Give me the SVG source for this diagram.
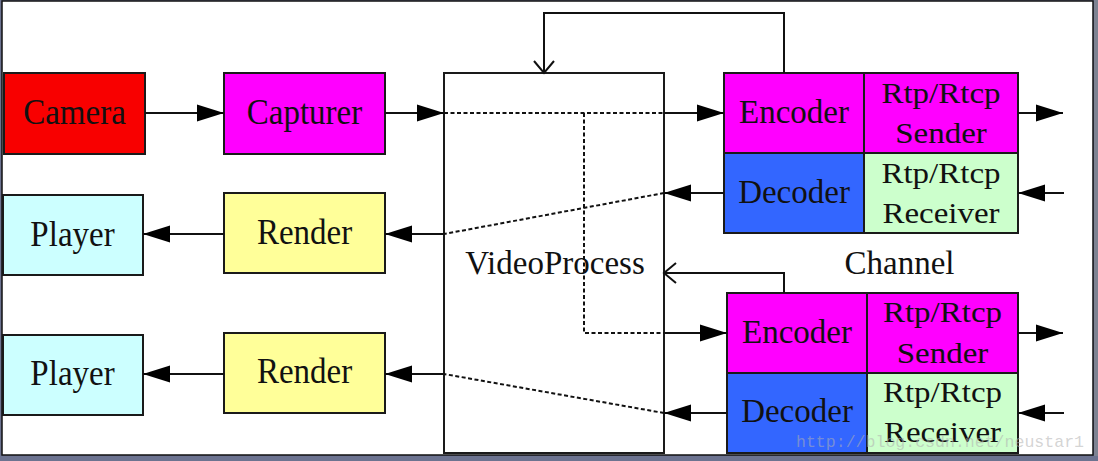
<svg xmlns="http://www.w3.org/2000/svg" width="1098" height="461" viewBox="0 0 1098 461">
<style>
.box{stroke:#1a1a1a;stroke-width:2}
.t{font-family:"Liberation Serif","Times New Roman",serif;font-size:33px;text-anchor:middle;fill:#111}
.ln{fill:none;stroke:#111;stroke-width:2}
.dot{fill:none;stroke:#111;stroke-width:2;stroke-dasharray:4 2.5}
.wm{font-family:"Liberation Mono","Courier New",monospace;font-size:17px;fill:#b0b0b0;fill-opacity:0.55}
</style>
<defs>
<marker id="ah" markerWidth="28" markerHeight="18" refX="27" refY="9" orient="auto" markerUnits="userSpaceOnUse">
<path d="M0,0.5 L27,9 L0,17.5 z" fill="#000"/>
</marker>
<marker id="oh" markerWidth="15" markerHeight="22" refX="13" refY="11" orient="auto" markerUnits="userSpaceOnUse">
<path d="M1,1 L13,11 L1,21" fill="none" stroke="#111" stroke-width="2"/>
</marker>
</defs>
<rect x="0" y="0" width="1098" height="461" fill="#6c7390"/>
<rect x="1094" y="0" width="4" height="456" fill="#7e8392"/>
<rect x="2" y="1" width="1091" height="454" fill="#ffffff" stroke="#111" stroke-width="1.5"/>

<g id="camera">
<rect class="box" x="4" y="73" width="141" height="81" fill="#f80000"/>
<text class="t" transform="translate(74.5,124) scale(1,1.07)">Camera</text>
</g>
<g id="capturer">
<rect class="box" x="224" y="73" width="161" height="81" fill="#ff00ff"/>
<text class="t" transform="translate(304.5,124) scale(1,1.07)">Capturer</text>
</g>
<g id="player1">
<rect class="box" x="3" y="195" width="140" height="80" fill="#ccffff"/>
<text class="t" transform="translate(72.5,246) scale(1,1.07)">Player</text>
</g>
<g id="render1">
<rect class="box" x="224" y="193" width="161" height="80" fill="#ffff99"/>
<text class="t" transform="translate(304.5,244) scale(1,1.07)">Render</text>
</g>
<g id="player2">
<rect class="box" x="3" y="335" width="140" height="80" fill="#ccffff"/>
<text class="t" transform="translate(72.5,385) scale(1,1.07)">Player</text>
</g>
<g id="render2">
<rect class="box" x="224" y="333" width="161" height="80" fill="#ffff99"/>
<text class="t" transform="translate(304.5,383) scale(1,1.07)">Render</text>
</g>
<g id="videoprocess">
<rect class="box" x="444" y="73" width="220" height="380" fill="#ffffff"/>
<text class="t" transform="translate(555,274) scale(1,1.05)">VideoProcess</text>
</g>
<g id="channel-label">
<text class="t" transform="translate(899.5,274) scale(1,1.05)">Channel</text>
</g>

<g id="channel1">
<rect class="box" x="724" y="73" width="140" height="80" fill="#ff00ff"/>
<rect class="box" x="864" y="73" width="154" height="80" fill="#ff00ff"/>
<rect class="box" x="724" y="153" width="140" height="80" fill="#3366ff"/>
<rect class="box" x="864" y="153" width="154" height="80" fill="#ccffcc"/>
<text class="t" transform="translate(794,123)">Encoder</text>
<text class="t" transform="translate(941,103) scale(1,0.88)">Rtp/Rtcp</text>
<text class="t" transform="translate(941,143) scale(1,0.92)">Sender</text>
<text class="t" transform="translate(794,203)">Decoder</text>
<text class="t" transform="translate(941,183) scale(1,0.88)">Rtp/Rtcp</text>
<text class="t" transform="translate(941,223) scale(1,0.92)">Receiver</text>
</g>
<g id="channel2">
<rect class="box" x="727" y="293" width="140" height="80" fill="#ff00ff"/>
<rect class="box" x="867" y="293" width="151" height="80" fill="#ff00ff"/>
<rect class="box" x="727" y="373" width="140" height="80" fill="#3366ff"/>
<rect class="box" x="867" y="373" width="151" height="80" fill="#ccffcc"/>
<text class="t" transform="translate(797,343)">Encoder</text>
<text class="t" transform="translate(942.5,322) scale(1,0.88)">Rtp/Rtcp</text>
<text class="t" transform="translate(942.5,363) scale(1,0.92)">Sender</text>
<text class="t" transform="translate(797,422)">Decoder</text>
<text class="t" transform="translate(942.5,402) scale(1,0.88)">Rtp/Rtcp</text>
<text class="t" transform="translate(942.5,442) scale(1,0.92)">Receiver</text>
</g>

<g id="connectors">
<path class="ln" d="M145,113 H224" marker-end="url(#ah)"/>
<path class="ln" d="M385,113 H444" marker-end="url(#ah)"/>
<path class="ln" d="M664,113 H724" marker-end="url(#ah)"/>
<path class="ln" d="M1018,113 H1063" marker-end="url(#ah)"/>
<path class="ln" d="M1064,193 H1018" marker-end="url(#ah)"/>
<path class="ln" d="M724,193 H664" marker-end="url(#ah)"/>
<path class="ln" d="M444,234 H385" marker-end="url(#ah)"/>
<path class="ln" d="M224,234 H143" marker-end="url(#ah)"/>
<path class="ln" d="M664,333 H727" marker-end="url(#ah)"/>
<path class="ln" d="M1018,333 H1063" marker-end="url(#ah)"/>
<path class="ln" d="M1064,413 H1018" marker-end="url(#ah)"/>
<path class="ln" d="M727,413 H664" marker-end="url(#ah)"/>
<path class="ln" d="M444,374 H385" marker-end="url(#ah)"/>
<path class="ln" d="M224,374 H143" marker-end="url(#ah)"/>
<path class="dot" d="M444,113 H664"/>
<path class="dot" d="M584,113 V333 H664"/>
<path class="dot" d="M664,193 L444,234"/>
<path class="dot" d="M664,413 L444,374"/>
<path class="ln" d="M784,73 V13 H544 V73" marker-end="url(#oh)"/>
<path class="ln" d="M784,293 V273 H664" marker-end="url(#oh)"/>
</g>

<text class="wm" x="796" y="447" textLength="288" lengthAdjust="spacingAndGlyphs">http://blog.csdn.net/neustar1</text>
</svg>
